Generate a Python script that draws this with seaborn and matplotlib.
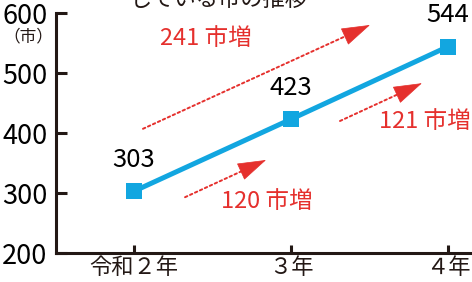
import matplotlib
matplotlib.use("Agg")
import matplotlib.pyplot as plt
import seaborn as sns
import pandas as pd

# data
years = ["令和２年", "３年", "４年"]
cities = [303, 423, 544]
increase_labels = ["120 市増", "121 市増", "241 市増"]
title = "している市の推移"
unit = "（市）"

blue = "#12A6E0"
red = "#E5302D"
ink = "#231815"

sns.set_theme(style="white")
plt.rcParams["font.family"] = ["Noto Sans CJK JP", "DejaVu Sans"]

df = pd.DataFrame({"x": range(len(years)), "cities": cities})

fig = plt.figure(figsize=(4.72, 2.82), dpi=100)
ax = fig.add_axes([56/472, 29/282, 1 - 56/472, 240/282])

sns.lineplot(data=df, x="x", y="cities", ax=ax, color=blue, linewidth=3.6,
             marker="s", markersize=12, markeredgewidth=0, markerfacecolor=blue)

ax.set_xlim(-0.497, 2.153)
ax.set_ylim(200, 600)
ax.set_yticks([200, 300, 400, 500, 600])
ax.set_xticks(range(len(years)))
ax.set_xticklabels(years)
ax.set_xlabel("")
ax.set_ylabel("")

sns.despine(ax=ax)
for s in ["left", "bottom"]:
    ax.spines[s].set_color(ink)
    ax.spines[s].set_linewidth(2.2)
ax.tick_params(axis="y", direction="in", length=8, width=2.2, color=ink,
               labelsize=19.5, labelcolor="black", pad=6, left=True)
ax.tick_params(axis="x", direction="in", length=6, width=2.2, color=ink,
               labelsize=16, labelcolor=ink, pad=2, bottom=True)

# value labels
for i, v in enumerate(cities):
    ax.text(i, v + 52, str(v), ha="center", va="center", fontsize=18.5, color="black")

# increase arrows
arrows = [((0.325, 293), (0.841, 355)),
          ((1.312, 420), (1.834, 483)),
          ((0.057, 407), (1.503, 580))]
text_pos = [(0.847, 285), (1.854, 420), (0.459, 557)]
for (start, end), lab, (tx, ty) in zip(arrows, increase_labels, text_pos):
    # dotted shaft
    ax.annotate("", xy=end, xytext=start,
                arrowprops=dict(arrowstyle="-", color=red, lw=1.4,
                                linestyle=(0, (1.3, 1.5)), shrinkA=0, shrinkB=6))
    # solid head
    near = (end[0] - 0.04 * (end[0] - start[0]), end[1] - 0.04 * (end[1] - start[1]))
    ax.annotate("", xy=end, xytext=near,
                arrowprops=dict(arrowstyle="-|>,head_length=1.9,head_width=0.6",
                                color=red, lw=0.5, mutation_scale=10,
                                shrinkA=0, shrinkB=0))
    ax.text(tx, ty, lab, ha="center", va="center", fontsize=17, color=red)

fig.text(28/472, 1 - 37/282, unit, ha="center", va="center", fontsize=12, color=ink)
fig.text(130/472, 1 - 6/282, title, ha="left", va="baseline", fontsize=16, color=ink)

fig.savefig("out.png", dpi=100)
